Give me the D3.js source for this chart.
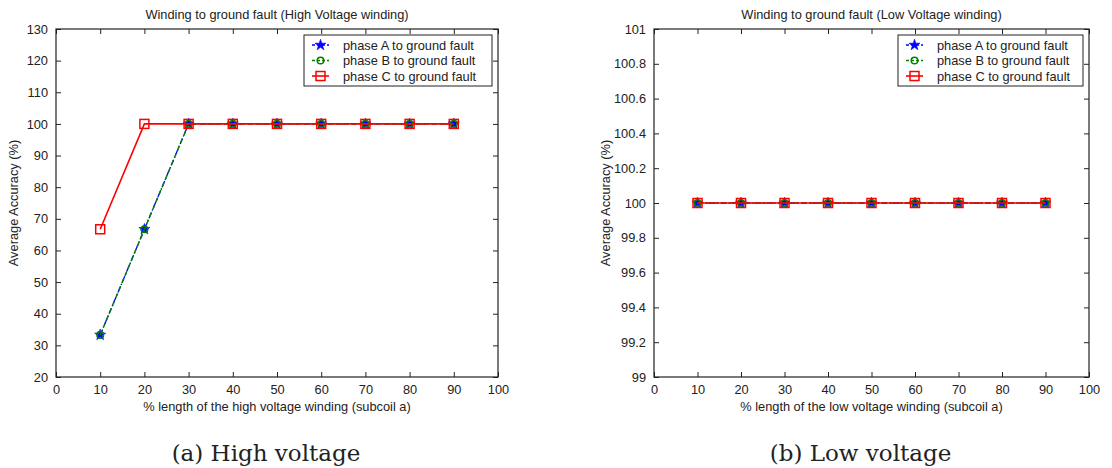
<!DOCTYPE html>
<html><head><meta charset="utf-8">
<script src="https://cdn.jsdelivr.net/npm/d3@7"></script>
<style>body{margin:0;background:#fff}svg{display:block}</style>
</head><body>
<svg id="c" width="1112" height="468"></svg>
<script>
const xValues = [10,20,30,40,50,60,70,80,90];
const hvPhaseA = [33.3,66.7,100,100,100,100,100,100,100];
const hvPhaseB = [33.3,66.7,100,100,100,100,100,100,100];
const hvPhaseC = [66.7,100,100,100,100,100,100,100,100];
const lvPhaseA = [100,100,100,100,100,100,100,100,100];
const lvPhaseB = [100,100,100,100,100,100,100,100,100];
const lvPhaseC = [100,100,100,100,100,100,100,100,100];
const xTicks = [0,10,20,30,40,50,60,70,80,90,100];
const hvYTicks = [20,30,40,50,60,70,80,90,100,110,120,130];
const lvYTicks = [99,99.2,99.4,99.6,99.8,100,100.2,100.4,100.6,100.8,101];
const seriesNames = ["phase A to ground fault","phase B to ground fault","phase C to ground fault"];

const svg = d3.select("#c");
const FONT = "Liberation Sans, Arial, sans-serif";
const FS = 12.8;
const styles = [
  {color:"#0000ff", dash:"6,2,1.5,2", marker:"star", width:1.3},
  {color:"#008000", dash:"5,3", marker:"circle", width:1.5},
  {color:"#ff0000", dash:null, marker:"square", width:1.6}
];

function drawMarker(g, type, x, y, color){
  if(type==="star"){
    g.append("path").attr("d", d3.symbol(d3.symbolStar, 38)()).attr("transform",`translate(${x},${y})`)
      .attr("fill",color).attr("stroke",color).attr("stroke-width",0.6);
  } else if(type==="circle"){
    g.append("circle").attr("cx",x).attr("cy",y).attr("r",3.3).attr("fill","none").attr("stroke",color).attr("stroke-width",1.5);
  } else {
    g.append("rect").attr("x",x-4.5).attr("y",y-4.5).attr("width",9).attr("height",9).attr("fill","none").attr("stroke",color).attr("stroke-width",1.5);
  }
}

function panel(opt){
  const {left,right,top,bottom,yDomain,yTicks,yFmt,series,title,xlabel,caption,ylabelX,legendX} = opt;
  const x = d3.scaleLinear().domain([0,100]).range([left,right]);
  const y = d3.scaleLinear().domain(yDomain).range([bottom,top]);
  const g = svg.append("g");
  const ax = g.append("g").attr("transform",`translate(0,${bottom})`).call(d3.axisBottom(x).tickValues(xTicks).tickSize(-5).tickPadding(8).tickFormat(d3.format("d")));
  const axT = g.append("g").attr("transform",`translate(0,${top})`).call(d3.axisTop(x).tickValues(xTicks).tickSize(-5).tickFormat(""));
  const ay = g.append("g").attr("transform",`translate(${left},0)`).call(d3.axisLeft(y).tickValues(yTicks).tickSize(-5).tickPadding(8).tickFormat(yFmt));
  const ayR = g.append("g").attr("transform",`translate(${right},0)`).call(d3.axisRight(y).tickValues(yTicks).tickSize(-5).tickFormat(""));
  [ax,axT,ay,ayR].forEach(a=>{
    a.select(".domain").remove();
    a.selectAll(".tick line").attr("stroke","#222").attr("stroke-width",1);
    a.selectAll(".tick text").attr("font-family",FONT).attr("font-size",FS).attr("fill","#222");
  });
  g.append("rect").attr("x",left).attr("y",top).attr("width",right-left).attr("height",bottom-top)
    .attr("fill","none").attr("stroke","#222").attr("stroke-width",1.2);
  const line = d3.line().x((d,i)=>x(xValues[i])).y(d=>y(d));
  series.forEach((s,k)=>{
    const st = styles[k];
    g.append("path").datum(s).attr("d",line).attr("fill","none").attr("stroke",st.color)
      .attr("stroke-width",st.width).attr("stroke-dasharray",st.dash);
    s.forEach((v,i)=>drawMarker(g, st.marker, x(xValues[i]), y(v), st.color));
  });
  g.append("text").attr("x",(left+right)/2).attr("y",top-10).attr("text-anchor","middle")
    .attr("font-family",FONT).attr("font-size",FS).attr("fill","#222").text(title);
  g.append("text").attr("x",(left+right)/2).attr("y",bottom+34).attr("text-anchor","middle")
    .attr("font-family",FONT).attr("font-size",FS).attr("fill","#222").text(xlabel);
  g.append("text").attr("transform",`translate(${ylabelX},${(top+bottom)/2}) rotate(-90)`).attr("text-anchor","middle")
    .attr("font-family",FONT).attr("font-size",FS).attr("fill","#222").text("Average Accuracy (%)");
  g.append("text").attr("x",(left+right)/2-11).attr("y",461).attr("text-anchor","middle")
    .attr("font-family","DejaVu Serif, Liberation Serif, serif").attr("font-size",23).attr("fill","#222").text(caption);
  const lw = right - legendX - 6;
  const lg = g.append("g");
  lg.append("rect").attr("x",legendX).attr("y",top+6).attr("width",lw).attr("height",51)
    .attr("fill","#fff").attr("stroke","#222").attr("stroke-width",1);
  seriesNames.forEach((n,k)=>{
    const st = styles[k];
    const yy = top+6+10+k*15.5;
    lg.append("line").attr("x1",legendX+8).attr("x2",legendX+25).attr("y1",yy).attr("y2",yy)
      .attr("stroke",st.color).attr("stroke-width",st.width).attr("stroke-dasharray",st.dash?"3,2":null);
    drawMarker(lg, st.marker, legendX+16.5, yy, st.color);
    lg.append("text").attr("x",legendX+39).attr("y",yy+4.5).attr("font-family",FONT).attr("font-size",FS).attr("fill","#222").text(n);
  });
}

panel({left:56,right:498,top:29,bottom:377,yDomain:[20,130],yTicks:hvYTicks,yFmt:d3.format("d"),
  series:[hvPhaseA,hvPhaseB,hvPhaseC],title:"Winding to ground fault (High Voltage winding)",
  xlabel:"% length of the high voltage winding (subcoil a)",caption:"(a) High voltage",ylabelX:18,legendX:304});
panel({left:654,right:1089,top:29,bottom:377,yDomain:[99,101],yTicks:lvYTicks,yFmt:d=>d3.format("")(+d.toFixed(1)),
  series:[lvPhaseA,lvPhaseB,lvPhaseC],title:"Winding to ground fault (Low Voltage winding)",
  xlabel:"% length of the low voltage winding (subcoil a)",caption:"(b) Low voltage",ylabelX:610,legendX:898});
</script>
</body></html>
